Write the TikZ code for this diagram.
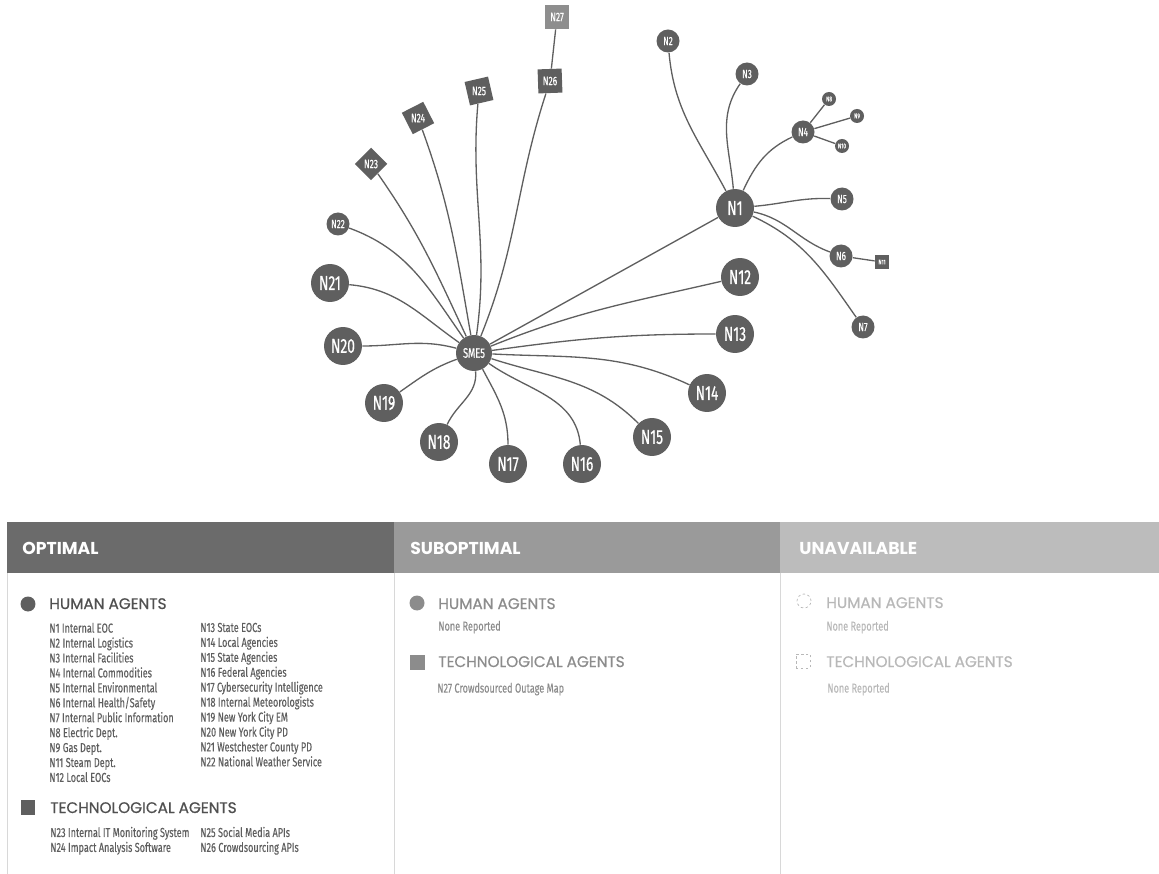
\documentclass[tikz,border=0pt]{standalone}
\usepackage{fontspec}
\usetikzlibrary{shapes.geometric, positioning}
\newfontfamily\condfont{Fira Sans}[FakeStretch=0.7, FakeBold=0.25]
\newfontfamily\labelfont{Fira Sans}[FakeStretch=0.68, FakeBold=0.5]
\newfontfamily\headfont{Poppins}
\newfontfamily\groupfont{Poppins}[FakeBold=0.7]
\definecolor{nodegray}{HTML}{5F5F5F}
\definecolor{suboptgray}{HTML}{8E8E8E}
\definecolor{optimalhead}{HTML}{6B6B6B}
\definecolor{suboptimalhead}{HTML}{9A9A9A}
\definecolor{unavailhead}{HTML}{BCBCBC}
\definecolor{panelline}{HTML}{D8D8D8}
\definecolor{listgray}{HTML}{5E5E5E}
\definecolor{groupgray}{HTML}{505050}
\definecolor{subtext}{HTML}{8C8C8C}
\definecolor{unavailtext}{HTML}{B8B8B8}
\newcommand{\agentfont}[1]{\labelfont\fontsize{#1}{#1}\selectfont}
\newcommand{\agentlistfont}{\condfont\fontsize{7.4}{8.5}\selectfont}

\begin{document}
\begin{tikzpicture}[x=0.02cm, y=0.02cm,
        agent/.style={circle, fill=nodegray, text=white, inner sep=0pt},
        bigagent/.style={agent, minimum size=0.76cm, font=\agentfont{11.5}},
        midagent/.style={agent, minimum size=0.46cm, font=\agentfont{6.8}},
        tinyagent/.style={agent, minimum size=0.28cm, font=\agentfont{4}},
        techagent/.style={regular polygon, regular polygon sides=4, fill=nodegray, text=white, inner sep=0pt, minimum size=0.68cm, font=\agentfont{7}},
        link/.style={draw=nodegray, line width=0.75pt},
        headtext/.style={anchor=base west, inner sep=0pt, text=white, font=\headfont\bfseries\fontsize{9.8}{12}\selectfont},
        grouptext/.style={anchor=base west, inner sep=0pt, font=\groupfont\fontsize{8.7}{11}\selectfont},
        listtext/.style={anchor=north west, inner sep=0pt, align=left, text=listgray, font=\agentlistfont},
        keybox/.style={inner sep=0pt, minimum size=0.3cm}
    ]
    \useasboundingbox (0,0) rectangle (1159,-874);

    % Hub agents
    \node[agent, minimum size=0.72cm, font=\agentfont{7.8}] (sme5) at (474,-353) {SME5};
    \node[bigagent] (n1) at (735,-208) {N1};

    % N1 branch
    \node[midagent] (n2) at (668,-41) {N2};
    \node[midagent] (n3) at (747,-74) {N3};
    \node[midagent] (n4) at (803,-132) {N4};
    \node[tinyagent] (n8) at (829,-99) {N8};
    \node[tinyagent] (n9) at (857,-116) {N9};
    \node[tinyagent] (n10) at (842,-146) {N10};
    \node[midagent] (n5) at (842,-199) {N5};
    \node[midagent] (n6) at (841,-256) {N6};
    \node[techagent, minimum size=0.4cm, font=\agentfont{3.8}] (n11) at (882,-262) {N11};
    \node[midagent] (n7) at (863,-327) {N7};

    % SME5 ring
    \node[bigagent] (n12) at (740,-277) {N12};
    \node[bigagent] (n13) at (735,-334) {N13};
    \node[bigagent] (n14) at (707,-393) {N14};
    \node[bigagent] (n15) at (652,-437) {N15};
    \node[bigagent] (n16) at (582,-464) {N16};
    \node[bigagent] (n17) at (508,-464) {N17};
    \node[bigagent] (n18) at (439,-442) {N18};
    \node[bigagent] (n19) at (384,-403) {N19};
    \node[bigagent] (n20) at (343,-346) {N20};
    \node[bigagent] (n21) at (330,-283) {N21};
    \node[midagent] (n22) at (338,-224) {N22};

    % Technological agents
    \node[techagent, minimum size=0.65cm, shape border rotate=45] (n23) at (371,-164) {N23};
    \node[techagent, shape border rotate=27] (n24) at (418,-118) {N24};
    \node[techagent, shape border rotate=13] (n25) at (479,-91) {N25};
    \node[techagent, shape border rotate=2] (n26) at (550,-81) {N26};
    \node[techagent, fill=suboptgray] (n27) at (557,-17) {N27};

    % Links of SME5
    \draw[link] (sme5) -- (n1);
    \draw[link] (sme5) to[out=22, in=193] (n12);
    \draw[link] (sme5) to[out=8, in=180] (n13);
    \draw[link] (sme5) to[out=-3, in=155] (n14);
    \draw[link] (sme5) to[out=-18, in=135] (n15);
    \draw[link] (sme5) to[out=-35, in=95] (n16);
    \draw[link] (sme5) to[out=-62, in=90] (n17);
    \draw[link] (sme5) to[out=-85, in=65] (n18);
    \draw[link] (sme5) to[out=200, in=35] (n19);
    \draw[link] (sme5) to[out=165, in=0] (n20);
    \draw[link] (sme5) to[out=145, in=-5] (n21);
    \draw[link] (sme5) to[out=125, in=-20] (n22);
    \draw[link] (sme5) to[out=115, in=-55] (n23);
    \draw[link] (sme5) to[out=100, in=-70] (n24);
    \draw[link] (sme5) to[out=82, in=-95] (n25);
    \draw[link] (sme5) to[out=68, in=-108] (n26);
    \draw[link] (n26) -- (n27);

    % Links of N1
    \draw[link] (n1) to[out=118, in=-85] (n2);
    \draw[link] (n1) to[out=95, in=-125] (n3);
    \draw[link] (n1) to[out=65, in=-155] (n4);
    \draw[link] (n1) to[out=5, in=178] (n5);
    \draw[link] (n1) to[out=-12, in=160] (n6);
    \draw[link] (n1) to[out=-25, in=125] (n7);
    \draw[link] (n4) -- (n8);
    \draw[link] (n4) -- (n9);
    \draw[link] (n4) -- (n10);
    \draw[link] (n6) -- (n11);

    % Legend panels
    \fill[optimalhead] (7,-522) rectangle (394,-573);
    \fill[suboptimalhead] (394,-522) rectangle (780,-573);
    \fill[unavailhead] (780,-522) rectangle (1159,-573);
    \draw[panelline] (7,-573) -- (7,-874) (394,-573) -- (394,-874) (780,-573) -- (780,-874);
    \node[headtext] (opthead) at (22,-554) {OPTIMAL};
    \node[headtext] (subhead) at (410,-554) {SUBOPTIMAL};
    \node[headtext] (unhead) at (799,-554) {UNAVAILABLE};

    % Optimal
    \node[keybox, circle, fill=nodegray] (opthumkey) at (28,-604) {};
    \node[grouptext, text=groupgray] (opthum) at (49,-609) {HUMAN AGENTS};
    \node[listtext] (humlistA) at (49,-622.5) {N1 Internal EOC\\N2 Internal Logistics\\N3 Internal Facilities\\N4 Internal Commodities\\N5 Internal Environmental\\N6 Internal Health/Safety\\N7 Internal Public Information\\N8 Electric Dept.\\N9 Gas Dept.\\N11 Steam Dept.\\N12 Local EOCs};
    \node[listtext] (humlistB) at (200,-622.5) {N13 State EOCs\\N14 Local Agencies\\N15 State Agencies\\N16 Federal Agencies\\N17 Cybersecurity Intelligence\\N18 Internal Meteorologists\\N19 New York City EM\\N20 New York City PD\\N21 Westchester County PD\\N22 National Weather Service};
    \node[keybox, fill=nodegray] (opttechkey) at (28,-807) {};
    \node[grouptext, text=groupgray] (opttech) at (50,-813) {TECHNOLOGICAL AGENTS};
    \node[listtext] (techlistA) at (50,-826.5) {N23 Internal IT Monitoring System\\N24 Impact Analysis Software};
    \node[listtext] (techlistB) at (200,-826.5) {N25 Social Media APIs\\N26 Crowdsourcing APIs};

    % Suboptimal
    \node[keybox, circle, fill=subtext] (subhumkey) at (417,-603) {};
    \node[grouptext, text=subtext] (subhum) at (438,-609) {HUMAN AGENTS};
    \node[listtext, text=subtext] (subhumlist) at (438,-620.5) {None Reported};
    \node[keybox, fill=subtext] (subtechkey) at (417,-662) {};
    \node[grouptext, text=subtext] (subtech) at (438,-667) {TECHNOLOGICAL AGENTS};
    \node[listtext, text=subtext] (subtechlist) at (437,-682.5) {N27 Crowdsourced Outage Map};

    % Unavailable
    \node[keybox, circle, draw=unavailtext, dash pattern=on 1.4pt off 1.4pt, minimum size=0.28cm] (unhumkey) at (804,-601) {};
    \node[grouptext, text=unavailtext] (unhum) at (826,-608) {HUMAN AGENTS};
    \node[listtext, text=unavailtext] (unhumlist) at (826,-620.5) {None Reported};
    \node[keybox, draw=unavailtext, dash pattern=on 1.4pt off 1.4pt, minimum size=0.28cm] (untechkey) at (803,-661) {};
    \node[grouptext, text=unavailtext] (untech) at (826,-667) {TECHNOLOGICAL AGENTS};
    \node[listtext, text=unavailtext] (untechlist) at (827,-682.5) {None Reported};
\end{tikzpicture}
\end{document}
